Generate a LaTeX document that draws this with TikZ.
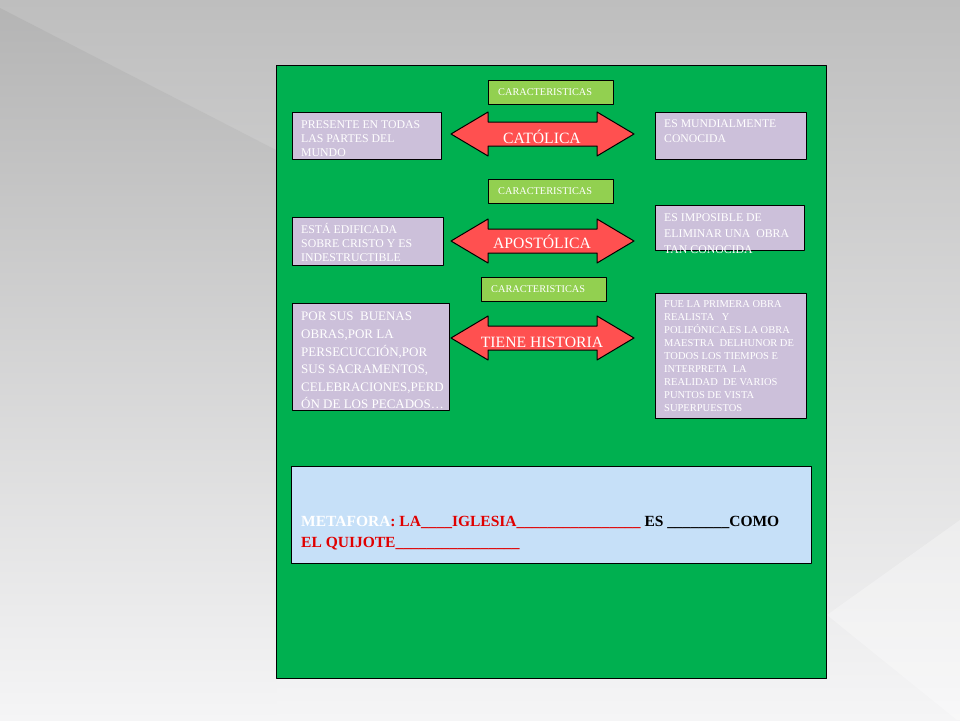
\documentclass[tikz,border=0pt]{standalone}
\usepackage{fontspec}
\setmainfont{Liberation Serif}
\definecolor{fondo}{HTML}{00B050}
\definecolor{lila}{HTML}{CCC0DA}
\definecolor{verdec}{HTML}{92D050}
\definecolor{rojof}{HTML}{FF5050}
\definecolor{celeste}{HTML}{C6E0F8}
\definecolor{rojot}{HTML}{E00000}
\definecolor{grisa}{HTML}{BEBEBE}
\definecolor{grisb}{HTML}{DADADA}
\definecolor{grisc}{HTML}{F5F5F6}
\begin{document}
\begin{tikzpicture}[x=1pt, y=-1pt, line join=round, line cap=round,
	caja/.style={draw, line width=1pt, anchor=north west, inner sep=0pt},
	txt/.style={anchor=north west, inner sep=0pt, align=left, text=white},
	flecha/.style={draw, line width=1pt, fill=rojof}]
			\useasboundingbox (0,0) rectangle (960,720);
			\shade[top color=grisa, middle color=grisb, bottom color=grisc] (0,0) rectangle (960,720);
			\shade[top color=grisa!95!black, middle color=grisb!98!black, bottom color=grisc] (0,8)--(276,150)--(276,720)--(0,720)--cycle;
			\fill[white, opacity=.3] (827,615)--(960,520)--(960,720)--(957,720)--cycle;
			\node[caja, fill=fondo, minimum width=550pt, minimum height=613pt] (marco) at (276,65) {};
			\foreach \a/\b/\n in {488/80/c1, 488/179/c2, 481/277/c3}{
				\node[caja, fill=verdec, minimum width=125pt, minimum height=24pt] (\n) at (\a,\b) {};
				\node[txt, anchor=west, font=\fontsize{10.3}{12}\selectfont] (t\n) at ([xshift=10pt]\n.west) {CARACTERISTICAS};
			}
			\node[caja, fill=lila, minimum width=149pt, minimum height=47pt] (pres) at (292,112) {};
			\node[caja, fill=lila, minimum width=151pt, minimum height=47pt] (mund) at (655,112) {};
			\node[caja, fill=lila, minimum width=151pt, minimum height=48pt] (edif) at (292,217) {};
			\node[caja, fill=lila, minimum width=149pt, minimum height=45pt] (impo) at (655,205) {};
			\node[caja, fill=lila, minimum width=157pt, minimum height=107pt] (buen) at (292,303) {};
			\node[caja, fill=lila, minimum width=151pt, minimum height=125pt] (quij) at (655,293) {};
			\node[caja, fill=celeste, minimum width=520pt, minimum height=97pt] (meta) at (291,466) {};
			\node[txt, font=\fontsize{11.8}{14.3}\selectfont] (tpres) at (301,120) {PRESENTE EN TODAS\\LAS PARTES DEL\\MUNDO};
			\node[txt, font=\fontsize{11.7}{15}\selectfont] (tmund) at (664,120) {ES MUNDIALMENTE\\CONOCIDA};
			\node[txt, font=\fontsize{11.8}{14.3}\selectfont] (tedif) at (301,223) {ESTÁ EDIFICADA\\SOBRE CRISTO Y ES\\INDESTRUCTIBLE};
			\node[txt, font=\fontsize{11.8}{16.3}\selectfont] (timpo) at (664,213) {ES IMPOSIBLE DE\\ELIMINAR UNA\ \ OBRA\\TAN CONOCIDA};
			\node[txt, font=\fontsize{13}{17.6}\selectfont] (tbuen) at (301,312) {POR SUS\ \ BUENAS\\OBRAS,POR LA\\PERSECUCCIÓN,POR\\SUS SACRAMENTOS,\\CELEBRACIONES,PERD\\ÓN DE LOS PECADOS…};
			\node[txt, font=\fontsize{10.5}{13}\selectfont] (tquij) at (664,300) {FUE LA PRIMERA OBRA\\REALISTA\ \ \ Y\\POLIFÓNICA.ES LA OBRA\\MAESTRA\ \ DELHUNOR DE\\TODOS LOS TIEMPOS E\\INTERPRETA\ \ LA\\REALIDAD\ \ DE VARIOS\\PUNTOS DE VISTA\\SUPERPUESTOS};
			\foreach \yy/\bl/\lab/\n in {134/143/CATÓLICA/cat, 241/248/APOSTÓLICA/apo, 338/347/TIENE HISTORIA/his}{
				\draw[flecha] (451,\yy)--(488,\yy-22)--(488,\yy-12)--(597,\yy-12)--(597,\yy-22)--(634,\yy)
					--(597,\yy+22)--(597,\yy+12)--(488,\yy+12)--(488,\yy+22)--cycle;
				\node[text=white, inner sep=0pt, anchor=base, font=\fontsize{15.7}{18}\selectfont] (\n) at (542,\bl) {\lab};
			}
			\node[txt, anchor=base west, text=black, font=\bfseries\fontsize{15.5}{21}\selectfont] (tmeta) at (301,547)
				{\textcolor{white}{METAFORA}\textcolor{rojot}{: LA\_\_\_\_IGLESIA\_\_\_\_\_\_\_\_\_\_\_\_\_\_\_\_} ES \_\_\_\_\_\_\_\_COMO\\
				\textcolor{rojot}{EL QUIJOTE\_\_\_\_\_\_\_\_\_\_\_\_\_\_\_\_}};
		\end{tikzpicture}
\end{document}
